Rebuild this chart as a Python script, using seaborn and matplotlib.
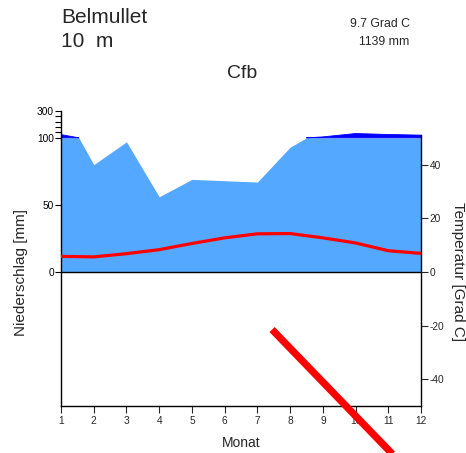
import numpy as np
import pandas as pd
import matplotlib
matplotlib.use("Agg")
import matplotlib.pyplot as plt
import seaborn as sns

# Station header
station = "Belmullet"
altitude = "10  m"
climate_class = "Cfb"
annual_temp = "9.7 Grad C"
annual_precip = "1139 mm"

# Monthly climate normals
months = [1, 2, 3, 4, 5, 6, 7, 8, 9, 10, 11, 12]
precip_mm = [124, 80, 97, 56, 69, 68, 67, 93, 107, 132, 125, 120]
temp_c = [5.8, 5.6, 6.8, 8.3, 10.6, 12.7, 14.2, 14.3, 12.7, 10.8, 7.9, 6.9]

# Axis ticks
precip_ticks = [0, 50, 100, 300]
temp_ticks = [40, 20, 0, -20, -40]

# Red stroke across the lower panel (month, temperature)
stroke_month = [7.45, 11.45]
stroke_temp = [-21.5, -72.0]

sns.set_style("white")
plt.rcParams["font.family"] = ["Liberation Sans", "DejaVu Sans"]

W, H = 466, 453
fig = plt.figure(figsize=(W / 100, H / 100), dpi=100)
ax = fig.add_axes([61 / W, 47 / H, 360 / W, 295 / H])


def precip_scale(p):
    """Walter-Lieth ordinate: linear to 100 mm, 1/10 scale above."""
    p = np.asarray(p, dtype=float)
    return np.where(p > 100, 100 + (p - 100) / 10.0, p)


def temp_scale(t):
    """10 degC corresponds to 20 mm."""
    return np.asarray(t, dtype=float) * 2.0


# precipitation areas
xf = np.linspace(1, 12, 2201)
pf = np.interp(xf, months, precip_mm)
ax.fill_between(xf, 0, np.minimum(pf, 100), color="#55A8FF", lw=0, zorder=1)
ax.fill_between(xf, 100, precip_scale(pf), where=pf > 100, color="#0000FF",
                lw=0.6, edgecolor="#0000FF", interpolate=True, zorder=1)

# temperature curve
df = pd.DataFrame({"Monat": months, "T": temp_scale(temp_c)})
sns.lineplot(data=df, x="Monat", y="T", color="#FF0000", lw=2.3, ax=ax, zorder=3)

ax.axhline(0, color="black", lw=1.0, zorder=4)

ax.plot(stroke_month, temp_scale(stroke_temp), color="#FF0000", lw=5.2,
        solid_capstyle="butt", clip_on=False, zorder=5)

ax.set_xlim(1, 12)
ax.set_ylim(-100, 120)

# spines
ax.spines["top"].set_visible(False)
for s in ["left", "bottom", "right"]:
    ax.spines[s].set_color("black")
    ax.spines[s].set_linewidth(1.0)
ax.spines["right"].set_bounds(-100, float(precip_scale(precip_mm[-1])))

# left (precipitation) ticks
ax.set_yticks(precip_scale(precip_ticks))
ax.set_yticklabels([str(v) for v in precip_ticks])
ax.set_yticks(np.linspace(100, 120, 6)[1:-1], minor=True)
ax.tick_params(axis="y", which="both", left=True, length=4, width=0.8,
               labelsize=7.3, pad=1, direction="out", colors="black")

# bottom ticks
ax.set_xticks(months)
ax.set_xticklabels([str(m) for m in months])
ax.tick_params(axis="x", bottom=True, length=5, width=0.8, labelsize=7.3,
               pad=2.5, direction="out")
ax.set_xlabel("Monat", fontsize=10, labelpad=7)
ax.set_ylabel("")

# right (temperature) ticks
axr = ax.twinx()
axr.set_ylim(ax.get_ylim())
axr.set_yticks(temp_scale(temp_ticks))
axr.set_yticklabels([str(t) for t in temp_ticks])
axr.tick_params(axis="y", right=True, length=5, width=0.8, labelsize=7.3,
                pad=1, direction="out")
for s in axr.spines.values():
    s.set_visible(False)
axr.grid(False)
ax.grid(False)

# axis titles
y0 = 1 - 272 / H
fig.text(21 / W, y0, "Niederschlag [mm]", rotation=90, ha="center",
         va="center", fontsize=11)
fig.text(458 / W, y0, "Temperatur [Grad C]", rotation=-90, ha="center",
         va="center", fontsize=11)

# header
def px(x, y):
    return x / W, 1 - y / H

fig.text(*px(61, 23), station, fontsize=15, ha="left", va="baseline")
fig.text(*px(61, 47), altitude, fontsize=15, ha="left", va="baseline")
fig.text(*px(410, 27), annual_temp, fontsize=8.8, ha="right", va="baseline")
fig.text(*px(409, 45), annual_precip, fontsize=8.8, ha="right", va="baseline")
fig.text(*px(242, 78), climate_class, fontsize=14, ha="center", va="baseline")

fig.savefig("out.png", dpi=100, facecolor="white")
